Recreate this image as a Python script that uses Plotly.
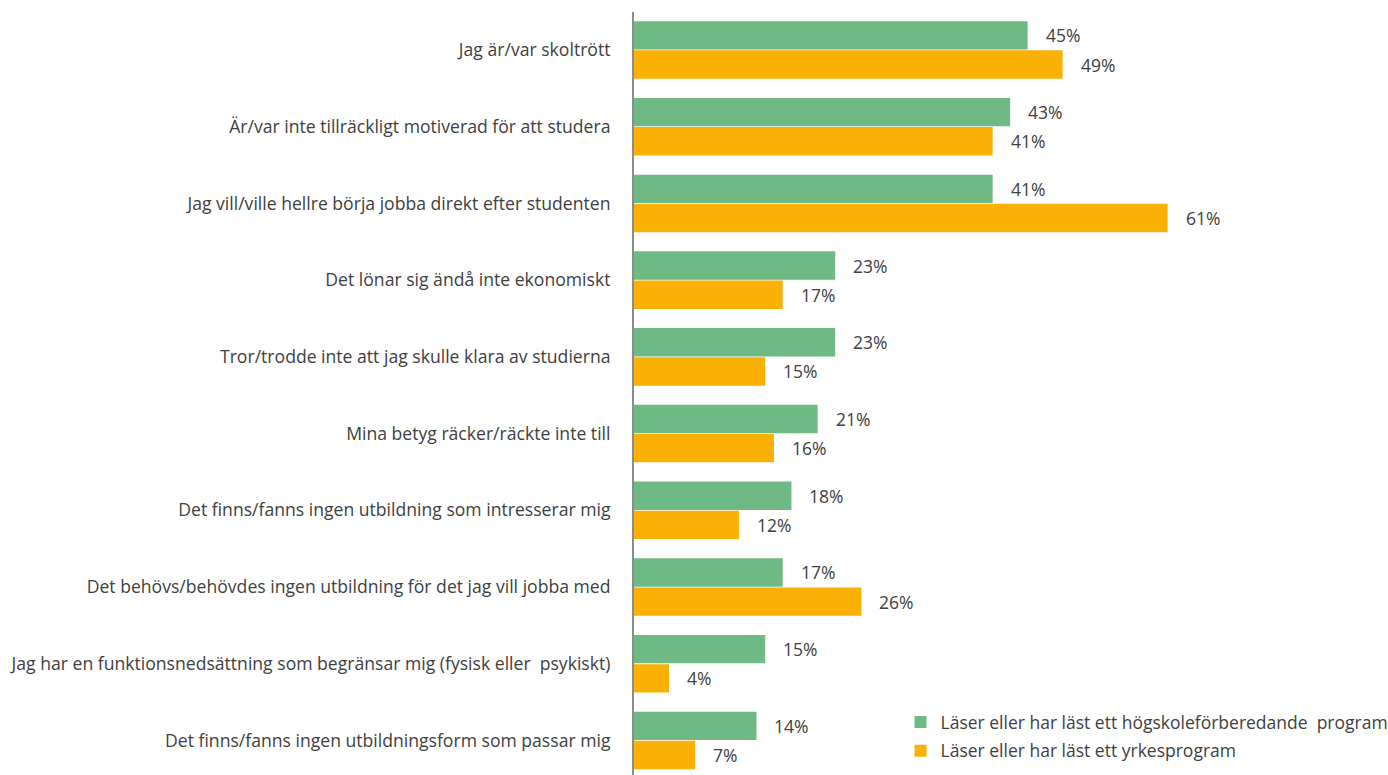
import plotly.graph_objects as go

categories = [
    "Jag är/var skoltrött",
    "Är/var inte tillräckligt motiverad för att studera",
    "Jag vill/ville hellre börja jobba direkt efter studenten",
    "Det lönar sig ändå inte ekonomiskt",
    "Tror/trodde inte att jag skulle klara av studierna",
    "Mina betyg räcker/räckte inte till",
    "Det finns/fanns ingen utbildning som intresserar mig",
    "Det behövs/behövdes ingen utbildning för det jag vill jobba med",
    "Jag har en funktionsnedsättning som begränsar mig (fysisk eller  psykiskt)",
    "Det finns/fanns ingen utbildningsform som passar mig",
]
series_names = [
    "Läser eller har läst ett högskoleförberedande  program",
    "Läser eller har läst ett yrkesprogram",
]
hogskole = [45, 43, 41, 23, 23, 21, 18, 17, 15, 14]
yrkes = [49, 41, 61, 17, 15, 16, 12, 26, 4, 7]

colors = ["#6FBA84", "#FAB005"]
text_color = "#404040"
FONT = "Open Sans"

idx = list(range(len(categories)))
off = 0.19
fig = go.Figure()
for vals, name, col, sgn, grp in [(hogskole, series_names[0], colors[0], -1, "a"),
                                  (yrkes, series_names[1], colors[1], 1, "b")]:
    ys = [i + sgn * off for i in idx]
    fig.add_trace(go.Bar(
        x=vals, y=ys, orientation="h", width=0.37, name=name,
        legendgroup=grp,
        marker=dict(color=col, line=dict(width=0)),
        hoverinfo="skip",
    ))
    for v, y in zip(vals, ys):
        fig.add_annotation(x=v, y=y, text=f"{v}%", showarrow=False,
                           xanchor="left", yanchor="middle", xshift=16,
                           font=dict(family=FONT, size=17.5, color=text_color))

fig.update_layout(
    width=1388, height=775,
    margin=dict(l=634, r=0, t=12, b=0, autoexpand=False),
    paper_bgcolor="white", plot_bgcolor="white",
    barmode="overlay",
    font=dict(family=FONT, size=17, color=text_color),
    xaxis=dict(range=[0, 86.2], showgrid=False, zeroline=False,
               showticklabels=False, showline=False, fixedrange=True),
    yaxis=dict(range=[9.45, -0.495], tickvals=idx, ticktext=categories,
               showgrid=False, zeroline=False, showline=True,
               linecolor="#8C8C8C", linewidth=2, ticks="",
               ticklabelstandoff=18, fixedrange=True,
               tickfont=dict(family=FONT, size=17.6, color=text_color)),
    legend=dict(xref="container", yref="container", x=0.6488, y=0.0916,
                xanchor="left", yanchor="top", traceorder="grouped",
                bgcolor="rgba(0,0,0,0)",
                font=dict(family=FONT, size=17.5, color=text_color),
                itemwidth=30, tracegroupgap=3),
    showlegend=True,
)

fig.write_html("out.html",
               config={"displayModeBar": False},
               post_script="document.body.style.margin='0';document.body.style.overflow='hidden';")
